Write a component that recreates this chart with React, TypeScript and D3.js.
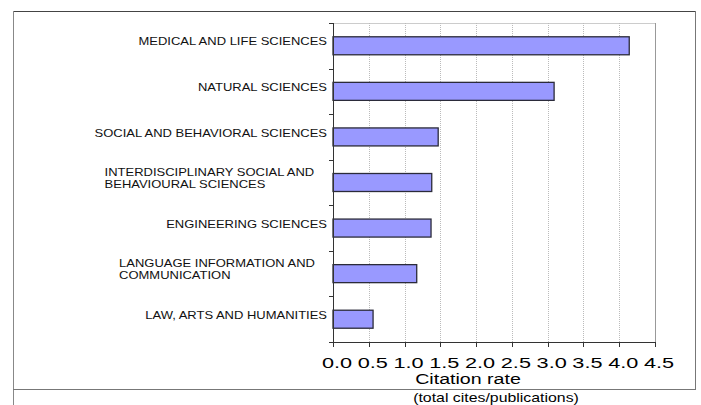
import { useMemo } from 'react';
import { scaleLinear, scaleBand, range } from 'd3';

// Citation rate by field (total cites / publications)
const FIELDS: string[][] = [
  ['MEDICAL AND LIFE SCIENCES'],
  ['NATURAL SCIENCES'],
  ['SOCIAL AND BEHAVIORAL SCIENCES'],
  ['INTERDISCIPLINARY SOCIAL AND', 'BEHAVIOURAL SCIENCES'],
  ['ENGINEERING SCIENCES'],
  ['LANGUAGE INFORMATION AND', 'COMMUNICATION'],
  ['LAW, ARTS AND HUMANITIES'],
];
const RATES = [4.14, 3.09, 1.47, 1.38, 1.37, 1.17, 0.56];
const X_TICKS = range(0, 4.51, 0.5);

const W = 701;
const H = 405;
const PLOT = { left: 333, right: 655, top: 23, bottom: 342 };
const FONT = "'Liberation Sans', Arial, Helvetica, sans-serif";
const BAR_FILL = '#9999ff';
const BAR_STROKE = '#2b2b3a';

// the source image is stretched horizontally, so text is too
const LABEL_SX = 1.3;
const TICK_SX = 1.55;

let ctx: CanvasRenderingContext2D | null = null;
function measure(text: string, font: string) {
  if (!ctx) ctx = document.createElement('canvas').getContext('2d');
  if (!ctx) return text.length * 6;
  ctx.font = font;
  return ctx.measureText(text).width;
}

export default function App() {
  const x = useMemo(() => scaleLinear().domain([0, 4.5]).range([PLOT.left, PLOT.right]), []);
  const y = useMemo(
    () =>
      scaleBand<number>()
        .domain(range(FIELDS.length))
        .range([PLOT.top, PLOT.bottom])
        .paddingInner(0.605)
        .paddingOuter(0.3025),
    [],
  );
  const step = y.step();
  const boundaries = range(FIELDS.length + 1).map((i) => PLOT.top + i * step);

  return (
    <svg width={W} height={H} style={{ position: 'absolute', left: 0, top: 0, background: '#fff' }}>
      {/* outer frame */}
      <line x1={13} x2={695} y1={11.5} y2={11.5} stroke="#444" strokeWidth={1} />
      <line x1={13.5} x2={13.5} y1={11} y2={H} stroke="#888" strokeWidth={1} />
      <line x1={695.5} x2={695.5} y1={11} y2={390} stroke="#777" strokeWidth={1} />
      <line x1={13} x2={695} y1={389.5} y2={389.5} stroke="#777" strokeWidth={1} />

      {/* plot area border */}
      <line x1={PLOT.left} x2={PLOT.right} y1={PLOT.top + 0.5} y2={PLOT.top + 0.5} stroke="#ccc" />
      <line x1={PLOT.right + 0.5} x2={PLOT.right + 0.5} y1={PLOT.top} y2={PLOT.bottom} stroke="#999" />

      {/* gridlines */}
      {X_TICKS.slice(1, -1).map((t) => (
        <line
          key={`g${t}`}
          x1={Math.round(x(t)) + 0.5} x2={Math.round(x(t)) + 0.5}
          y1={PLOT.top} y2={PLOT.bottom}
          stroke="#bbb" strokeWidth={1} strokeDasharray="1 1"
        />
      ))}

      {/* bars */}
      {RATES.map((v, i) => (
        <rect
          key={`b${i}`}
          x={x(0)} y={y(i)!}
          width={x(v) - x(0)} height={y.bandwidth()}
          fill={BAR_FILL} stroke={BAR_STROKE} strokeWidth={1.3}
        />
      ))}

      {/* y axis */}
      <line x1={PLOT.left + 0.5} x2={PLOT.left + 0.5} y1={PLOT.top} y2={PLOT.bottom} stroke="#333" />
      {boundaries.map((b, i) => (
        <line key={`yt${i}`} x1={PLOT.left - 4} x2={PLOT.left} y1={Math.round(b) + 0.5} y2={Math.round(b) + 0.5} stroke="#333" />
      ))}

      {/* x axis */}
      <line x1={PLOT.left} x2={PLOT.right} y1={PLOT.bottom + 0.5} y2={PLOT.bottom + 0.5} stroke="#333" />
      {X_TICKS.map((t) => (
        <line
          key={`xt${t}`}
          x1={Math.round(x(t)) + 0.5} x2={Math.round(x(t)) + 0.5}
          y1={PLOT.bottom} y2={PLOT.bottom + 5}
          stroke="#333"
        />
      ))}
      {X_TICKS.map((t) => (
        <g key={`xl${t}`} transform={`translate(${x(t) + 4}, 368) scale(${TICK_SX}, 1)`}>
          <text textAnchor="middle" fontFamily={FONT} fontSize={14} fill="#000">{t.toFixed(1)}</text>
        </g>
      ))}

      {/* category labels */}
      {FIELDS.map((lines, i) => {
        const cy = y(i)! + y.bandwidth() / 2 - 4;
        const font = `10px ${FONT}`;
        if (lines.length === 1) {
          return (
            <g key={`cl${i}`} transform={`translate(327, ${cy + 3.6}) scale(${LABEL_SX}, 1)`}>
              <text textAnchor="end" fontFamily={FONT} fontSize={10} fill="#111">{lines[0]}</text>
            </g>
          );
        }
        const maxW = Math.max(...lines.map((l) => measure(l, font))) * LABEL_SX;
        const left = 316 - maxW;
        const lh = 12.3;
        const top = cy - (lh * (lines.length - 1)) / 2;
        return (
          <g key={`cl${i}`}>
            {lines.map((l, j) => (
              <g key={j} transform={`translate(${left}, ${top + j * lh + 3.6}) scale(${LABEL_SX}, 1)`}>
                <text textAnchor="start" fontFamily={FONT} fontSize={10} fill="#111">{l}</text>
              </g>
            ))}
          </g>
        );
      })}

      {/* axis titles */}
      <g transform={`translate(468, 383.5) scale(1.4, 1)`}>
        <text textAnchor="middle" fontFamily={FONT} fontSize={14} fill="#000">Citation rate</text>
      </g>
      <g transform={`translate(496, 402) scale(1.22, 1)`}>
        <text textAnchor="middle" fontFamily={FONT} fontSize={13} fill="#000">(total cites/publications)</text>
      </g>
    </svg>
  );
}
